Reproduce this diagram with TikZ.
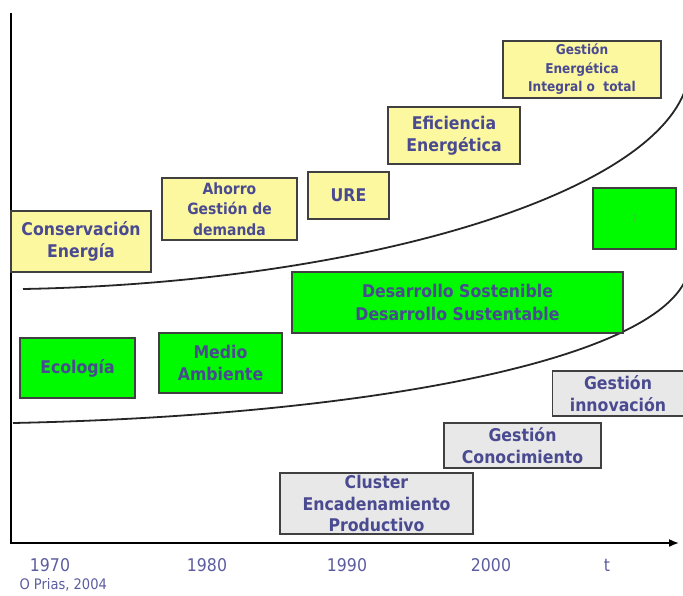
\documentclass[tikz,border=0pt]{standalone}
\usepackage{fontspec}
\setmainfont{DejaVu Sans}[FakeStretch=0.9]
\usepackage{tikz}
\usetikzlibrary{arrows.meta}

\definecolor{tinta}{RGB}{74,74,145}
\definecolor{tintaano}{RGB}{92,92,160}
\definecolor{amarillo}{RGB}{252,248,160}
\definecolor{verde}{RGB}{0,250,0}
\definecolor{gris}{RGB}{232,232,232}

\tikzset{
  caja/.style={draw=black!75, line width=1.1pt, text=tinta, align=center, inner sep=0pt,
    font=\bfseries\fontsize{17.5}{22.5}\selectfont},
  amarilla/.style={caja, fill=amarillo},
  cajaverde/.style={caja, fill=verde},
  cajagris/.style={caja, fill=gris},
  ano/.style={text=tintaano, font=\fontsize{17.5}{20}\selectfont}
}

\begin{document}
\begin{tikzpicture}[x=1pt, y=-1pt]
            \useasboundingbox (0,0) rectangle (683,595);
            \clip (0,0) rectangle (683,595);
            \coordinate (ejeY) at (11,13);
            \coordinate (origen) at (11,543);
            \coordinate (ejeX) at (679,543);
            \draw[line width=1.6pt, -{Latex[length=10pt,width=8pt]}] (ejeY) -- (origen) -- (ejeX);
            \draw[line width=1.8pt, black!85] (23,289) .. controls (350,283) and (640,200) .. (684,93);
            \draw[line width=1.8pt, black!85] (13,423) .. controls (350,416) and (640,365) .. (684,283);
            \node[amarilla, minimum width=140, minimum height=61] (conserv) at (81,241.5) {Conservación\\Energía};
            \node[amarilla, minimum width=135, minimum height=62, font=\bfseries\fontsize{15.5}{20.5}\selectfont] (ahorro) at (229.5,209) {Ahorro\\Gestión de\\demanda};
            \node[amarilla, minimum width=81, minimum height=47] (ure) at (348.5,195.5) {URE};
            \node[amarilla, minimum width=132, minimum height=57] (eficiencia) at (454,135.5) {Eficiencia\\Energética};
            \node[amarilla, minimum width=158, minimum height=57, font=\bfseries\fontsize{13.5}{18.5}\selectfont] (integral) at (582,69.5) {Gestión\\Energética\\Integral o~ total};
            \node[cajaverde, minimum width=83, minimum height=61, text=green!45!gray, font=\fontsize{10}{12}\selectfont] (incognita) at (634.5,218.5) {?};
            \node[cajaverde, minimum width=331, minimum height=61] (desarrollo) at (457.5,302.5) {Desarrollo Sostenible\\Desarrollo Sustentable};
            \node[cajaverde, minimum width=115, minimum height=60] (ecologia) at (77.5,368) {Ecología};
            \node[cajaverde, minimum width=123, minimum height=60] (medio) at (220.5,363) {Medio\\Ambiente};
            \node[cajagris, minimum width=131, minimum height=45] (innovacion) at (618,393.5) {Gestión\\innovación};
            \node[cajagris, minimum width=157, minimum height=45] (conocimiento) at (522.5,445.5) {Gestión\\Conocimiento};
            \node[cajagris, minimum width=193, minimum height=61, font=\bfseries\fontsize{17.5}{21.5}\selectfont] (cluster) at (376.5,503.5) {Cluster\\Encadenamiento\\Productivo};
            \node[ano] (a1970) at (50,565) {1970};
            \node[ano] (a1980) at (207,565) {1980};
            \node[ano] (a1990) at (347,565) {1990};
            \node[ano] (a2000) at (491,565) {2000};
            \node[ano] (tiempo) at (607,565) {t};
            \node[ano, font=\fontsize{14.5}{17}\selectfont, anchor=west] (autor) at (16,585) {O Prias, 2004};
        \end{tikzpicture}
\end{document}
